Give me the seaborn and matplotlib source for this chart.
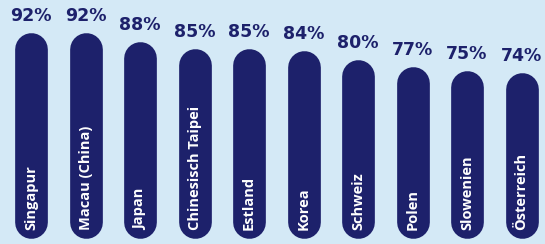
import matplotlib
matplotlib.use("Agg")
import matplotlib.pyplot as plt
import seaborn as sns

# data
countries = ['Singapur', 'Macau (China)', 'Japan', 'Chinesisch Taipei', 'Estland',
             'Korea', 'Schweiz', 'Polen', 'Slowenien', 'Österreich']
values = [92, 92, 88, 85, 85, 84, 80, 77, 75, 74]
value_labels = ['92%', '92%', '88%', '85%', '85%', '84%', '80%', '77%', '75%', '74%']

navy = '#1d216b'
bg = '#d4e9f6'

sns.set_theme(style='white')
plt.rcParams['font.family'] = ['Open Sans', 'DejaVu Sans']

fig = plt.figure(figsize=(5.45, 2.44), dpi=100, facecolor=bg)
ax = fig.add_axes([0, 0, 1, 1])
ax.set_facecolor(bg)

sns.barplot(x=countries, y=values, color=navy, width=0.6, saturation=1, ax=ax)

ax.set_xlim(-0.569, 9.431)
ax.set_ylim(-2.7, 106.8)
ax.axis('off')

# turn each bar into a pill: thick line with round caps, same footprint
fig.canvas.draw()
p0 = ax.transData.transform((0, 0))
p1 = ax.transData.transform((1, 1))
aspect = (p1[0] - p0[0]) / (p1[1] - p0[1])   # y units per x unit
px_per_x = p1[0] - p0[0]

for bar in list(ax.patches):
    x, w, h = bar.get_x(), bar.get_width(), bar.get_height()
    bar.set_visible(False)
    r = w / 2 * aspect
    lw = w * px_per_x * 72 / fig.dpi
    ax.plot([x + w / 2, x + w / 2], [r, h - r], color=navy, lw=lw,
            solid_capstyle='round', zorder=2)

# percentages above, country names inside
for i, (v, lab, name) in enumerate(zip(values, value_labels, countries)):
    ax.annotate(lab, (i, v), xytext=(0, 8.5), textcoords='offset points',
                ha='center', va='baseline', color=navy, fontsize=12.5,
                fontweight='bold', family='DejaVu Sans', zorder=3)
    ax.annotate(name, (i, 0), xytext=(0, 6), textcoords='offset points',
                ha='center', va='bottom', rotation=90, color='white',
                fontsize=10.5, fontweight='bold', zorder=3)

fig.savefig('out.png', dpi=100, facecolor=bg)
